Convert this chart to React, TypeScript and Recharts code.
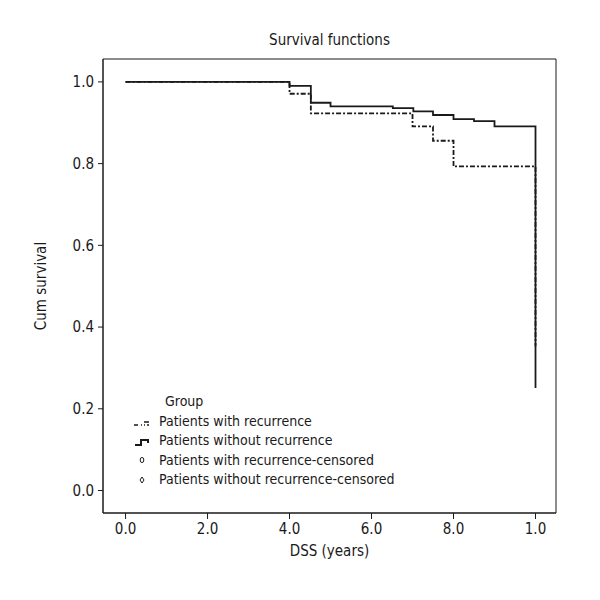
import React, { ReactElement } from 'react';
import { LineChart, Line, XAxis, YAxis, ReferenceArea } from 'recharts';

// step points (time in years, cumulative survival)
const withRecX = [0, 4.0, 4.52, 7.0, 7.5, 8.0, 10.0];
const withRecY = [1.0, 0.971, 0.923, 0.891, 0.856, 0.793, 0.353];
const withoutRecX = [0, 4.0, 4.52, 5.0, 6.52, 7.02, 7.5, 8.0, 8.5, 9.0, 10.0];
const withoutRecY = [1.0, 0.99, 0.949, 0.94, 0.936, 0.928, 0.919, 0.909, 0.904, 0.891, 0.251];

const xTicks = [0, 2, 4, 6, 8, 10];
const xTickLabels = ['0.0', '2.0', '4.0', '6.0', '8.0', '1.0'];
const yTicks = [0, 0.2, 0.4, 0.6, 0.8, 1.0];
const yTickLabels = ['0.0', '0.2', '0.4', '0.6', '0.8', '1.0'];

const legendTitle = 'Group';
const legendItems = [
  'Patients with recurrence',
  'Patients without recurrence',
  'Patients with recurrence-censored',
  'Patients without recurrence-censored'
];

const FONT = '"DejaVu Sans Condensed", "Liberation Sans Narrow", "Noto Sans", sans-serif';
const INK = '#1a1a1a';
const X_MIN = -0.55;
const X_MAX = 10.5;
const Y_MIN = -0.055;
const Y_MAX = 1.056;

const withRec = withRecX.map((x, i) => ({ x, y: withRecY[i] }));
const withoutRec = withoutRecX.map((x, i) => ({ x, y: withoutRecY[i] }));

function LegendIcon({ idx }: { idx: number }) {
  if (idx === 0) {
    return (
      <svg width={20} height={12}>
        <path d="M2 8 L6 8 M9 8 L10 8 M12 5 L17 5 M12 8 L13 8 M15 8 L17 8" stroke={INK} strokeWidth={1.5} />
      </svg>
    );
  }
  if (idx === 1) {
    return (
      <svg width={20} height={12}>
        <path d="M3 8 L9 8 L9 3 L16 3 L16 6" stroke={INK} strokeWidth={2} fill="none" />
      </svg>
    );
  }
  if (idx === 2) {
    return (
      <svg width={20} height={12}>
        <ellipse cx={10} cy={4} rx={1.8} ry={2.6} stroke={INK} strokeWidth={1} fill="none" />
      </svg>
    );
  }
  return (
    <svg width={20} height={12}>
      <path d="M10 1 L12 4 L10 7 L8 4 Z" stroke={INK} strokeWidth={1} fill="none" />
    </svg>
  );
}

function GroupLegend() {
  return (
    <div
      style={{
        position: 'absolute',
        left: 124,
        top: 384,
        fontFamily: FONT,
        fontSize: 14,
        color: INK,
        lineHeight: '19.5px'
      }}
    >
      <div style={{ paddingLeft: 33 }}>{legendTitle}</div>
      {legendItems.map((t, i) => (
        <div key={t} style={{ display: 'flex', alignItems: 'center' }}>
          <span style={{ width: 27, display: 'inline-block', height: 12 }}><LegendIcon idx={i} /></span>
          <span>{t}</span>
        </div>
      ))}
    </div>
  );
}

export default function App(): ReactElement {
  return (
    <div style={{ position: 'relative', width: 592, height: 592, background: '#fff' }}>
      <div
        style={{
          position: 'absolute',
          left: 0,
          width: 643,
          top: 23,
          textAlign: 'center',
          fontFamily: FONT,
          fontSize: 15,
          color: INK
        }}
      >
        Survival functions
      </div>
      <LineChart
        width={592}
        height={592}
        margin={{ top: 51, right: 44, left: 25, bottom: 57 }}
        style={{ fontFamily: FONT }}
      >
        <XAxis
          dataKey="x"
          type="number"
          domain={[X_MIN, X_MAX]}
          allowDataOverflow
          ticks={xTicks}
          tickFormatter={(v: number) => xTickLabels[xTicks.indexOf(v)]}
          height={30}
          tickSize={6}
          tickMargin={4}
          axisLine={{ stroke: INK }}
          tickLine={{ stroke: INK }}
          tick={{ fill: INK, fontSize: 15 }}
          label={{ value: 'DSS (years)', position: 'insideBottom', offset: -13, fill: INK, fontSize: 15 }}
        />
        <YAxis
          type="number"
          domain={[Y_MIN, Y_MAX]}
          allowDataOverflow
          ticks={yTicks}
          tickFormatter={(v: number) => yTickLabels[yTicks.indexOf(v)]}
          width={70}
          tickSize={5}
          tickMargin={4}
          axisLine={{ stroke: INK }}
          tickLine={{ stroke: INK }}
          tick={{ fill: INK, fontSize: 15 }}
          label={{ value: 'Cum survival', angle: -90, position: 'insideLeft', offset: 8, fill: INK, fontSize: 15, style: { textAnchor: 'middle' } }}
        />
        <ReferenceArea x1={X_MIN} x2={X_MAX} y1={Y_MIN} y2={Y_MAX} fill="none" stroke={INK} strokeWidth={1} ifOverflow="extendDomain" />
        <Line
          data={withRec}
          dataKey="y"
          type="stepAfter"
          stroke={INK}
          strokeWidth={1.8}
          strokeDasharray="5 2 2 2"
          dot={false}
          isAnimationActive={false}
        />
        <Line
          data={withoutRec}
          dataKey="y"
          type="stepAfter"
          stroke={INK}
          strokeWidth={1.8}
          dot={false}
          isAnimationActive={false}
        />
      </LineChart>
      <GroupLegend />
    </div>
  );
}
